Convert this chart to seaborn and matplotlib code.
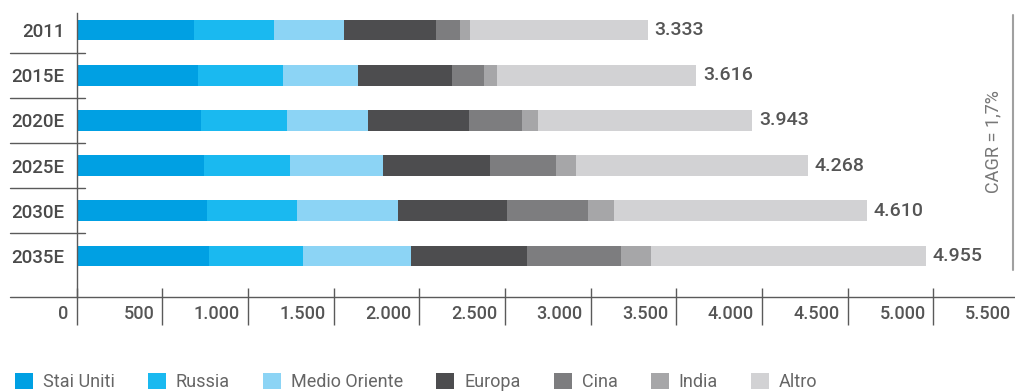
import numpy as np
import matplotlib
matplotlib.use("Agg")
import matplotlib.pyplot as plt
import seaborn as sns
from matplotlib.patches import Patch
from matplotlib.transforms import ScaledTranslation, blended_transform_factory

# Production by region (thousand units) per year
years = ["2011", "2015E", "2020E", "2025E", "2030E", "2035E"]
regions = ["Stai Uniti", "Russia", "Medio Oriente", "Europa", "Cina", "India", "Altro"]
stati_uniti = [683, 709, 726, 744, 761, 773]
russia = [472, 495, 502, 501, 525, 548]
medio_oriente = [403, 438, 473, 542, 589, 630]
europa = [542, 548, 589, 624, 635, 677]
cina = [135, 187, 309, 385, 473, 549]
india = [58, 76, 93, 117, 152, 175]
altro = [1040, 1163, 1251, 1355, 1475, 1603]
region_colors = ["#00a0e3", "#1ab9f0", "#8cd4f5", "#4d4d4f", "#7d7d7f", "#a6a6a8", "#d2d2d4"]
x_ticks = list(range(0, 5501, 500))
cagr_label = "CAGR = 1,7%"


def it_fmt(v):
    return f"{int(v):,}".replace(",", ".")


sns.set_style("white")
plt.rcParams["font.family"] = ["Roboto", "Liberation Sans", "DejaVu Sans"]

DARK = "#4a4a4a"
LINE = "#5a5a5a"
LABEL_WEIGHT = "medium"

fig = plt.figure(figsize=(10.15, 3.92), dpi=100)
W, H = 1015, 392
px = 0.1714  # pixels per unit on the x scale
x0, y_top, y_axis = 76.5, 13, 297
ax = fig.add_axes([x0 / W, (H - y_axis) / H, 5500 * px / W, (y_axis - y_top) / H])

segments = np.array([stati_uniti, russia, medio_oriente, europa, cina, india, altro])
cumulative = segments.cumsum(axis=0)
totals = cumulative[-1]

# stacked bars: draw the longest cumulative layer first, then overlay shorter ones
for i in reversed(range(len(regions))):
    sns.barplot(x=cumulative[i], y=years, order=years, orient="h",
                color=region_colors[i], saturation=1, width=0.46,
                errorbar=None, linewidth=0, ax=ax)

ax.bar_label(ax.containers[0], labels=[it_fmt(t) for t in totals], padding=5,
             fontsize=14, fontweight=LABEL_WEIGHT, color="#555555")

ax.set_xlim(0, 5500)
ax.set_ylim(5.907, -0.376)
ax.set_xlabel("")
ax.set_ylabel("")

# x ticks: long marks below, short marks above the axis line
ax.set_xticks(x_ticks)
ax.set_xticklabels([it_fmt(t) for t in x_ticks], fontsize=13, fontweight=LABEL_WEIGHT,
                   color="#555555", ha="right")
ax.set_xticks(x_ticks, minor=True)
ax.xaxis.remove_overlapping_locs = False
ax.tick_params(axis="x", which="major", bottom=True, direction="out", length=20.2,
               width=1.0, color=LINE, pad=-14.4)
ax.tick_params(axis="x", which="minor", bottom=True, direction="in", length=6.5,
               width=1.0, color=LINE)
shift = ScaledTranslation(-8 / 100, 0, fig.dpi_scale_trans)
for lab in ax.get_xticklabels():
    lab.set_transform(lab.get_transform() + shift)

ax.tick_params(axis="y", left=False, length=0, pad=8.6)
for lab in ax.get_yticklabels():
    lab.set_fontsize(13.5)
    lab.set_fontweight(LABEL_WEIGHT)
    lab.set_color(DARK)

for side in ["top", "right", "bottom"]:
    ax.spines[side].set_visible(False)
ax.spines["left"].set_color(LINE)
ax.spines["left"].set_linewidth(1.0)

# axis line extended to the left under the category labels
ax.plot([-66.5 / (5500 * px), 1.01], [0, 0], transform=ax.transAxes,
        color=LINE, lw=1.0, clip_on=False)

# separators between category rows
blend = blended_transform_factory(ax.transAxes, ax.transData)
for y in np.arange(0.5, len(years) - 1, 1.0):
    ax.plot([-66.5 / (5500 * px), 8.5 / (5500 * px)], [y, y], transform=blend,
            color=LINE, lw=1.0, clip_on=False)

# growth-rate bracket on the right
xb = (1013 - x0) / (5500 * px)
ax.plot([xb, xb], [(y_axis - 270) / (y_axis - y_top), (y_axis - 15) / (y_axis - y_top)],
        transform=ax.transAxes, color="#a0a0a0", lw=1.5, clip_on=False)
ax.text((993 - x0) / (5500 * px), (y_axis - 142) / (y_axis - y_top), cagr_label,
        transform=ax.transAxes, rotation=90, ha="center", va="center",
        fontsize=13, color="#777777")

handles = [Patch(facecolor=c, edgecolor="none") for c in region_colors]
leg = fig.legend(handles, regions, loc="center left", bbox_to_anchor=(15 / W, 1 - 382 / H),
                 ncol=7, frameon=False, fontsize=13, handlelength=1.0, handleheight=0.95,
                 handletextpad=0.55, columnspacing=1.83, borderaxespad=0, borderpad=0)
for t in leg.get_texts():
    t.set_color("#666666")

fig.savefig("out.png", dpi=100)
